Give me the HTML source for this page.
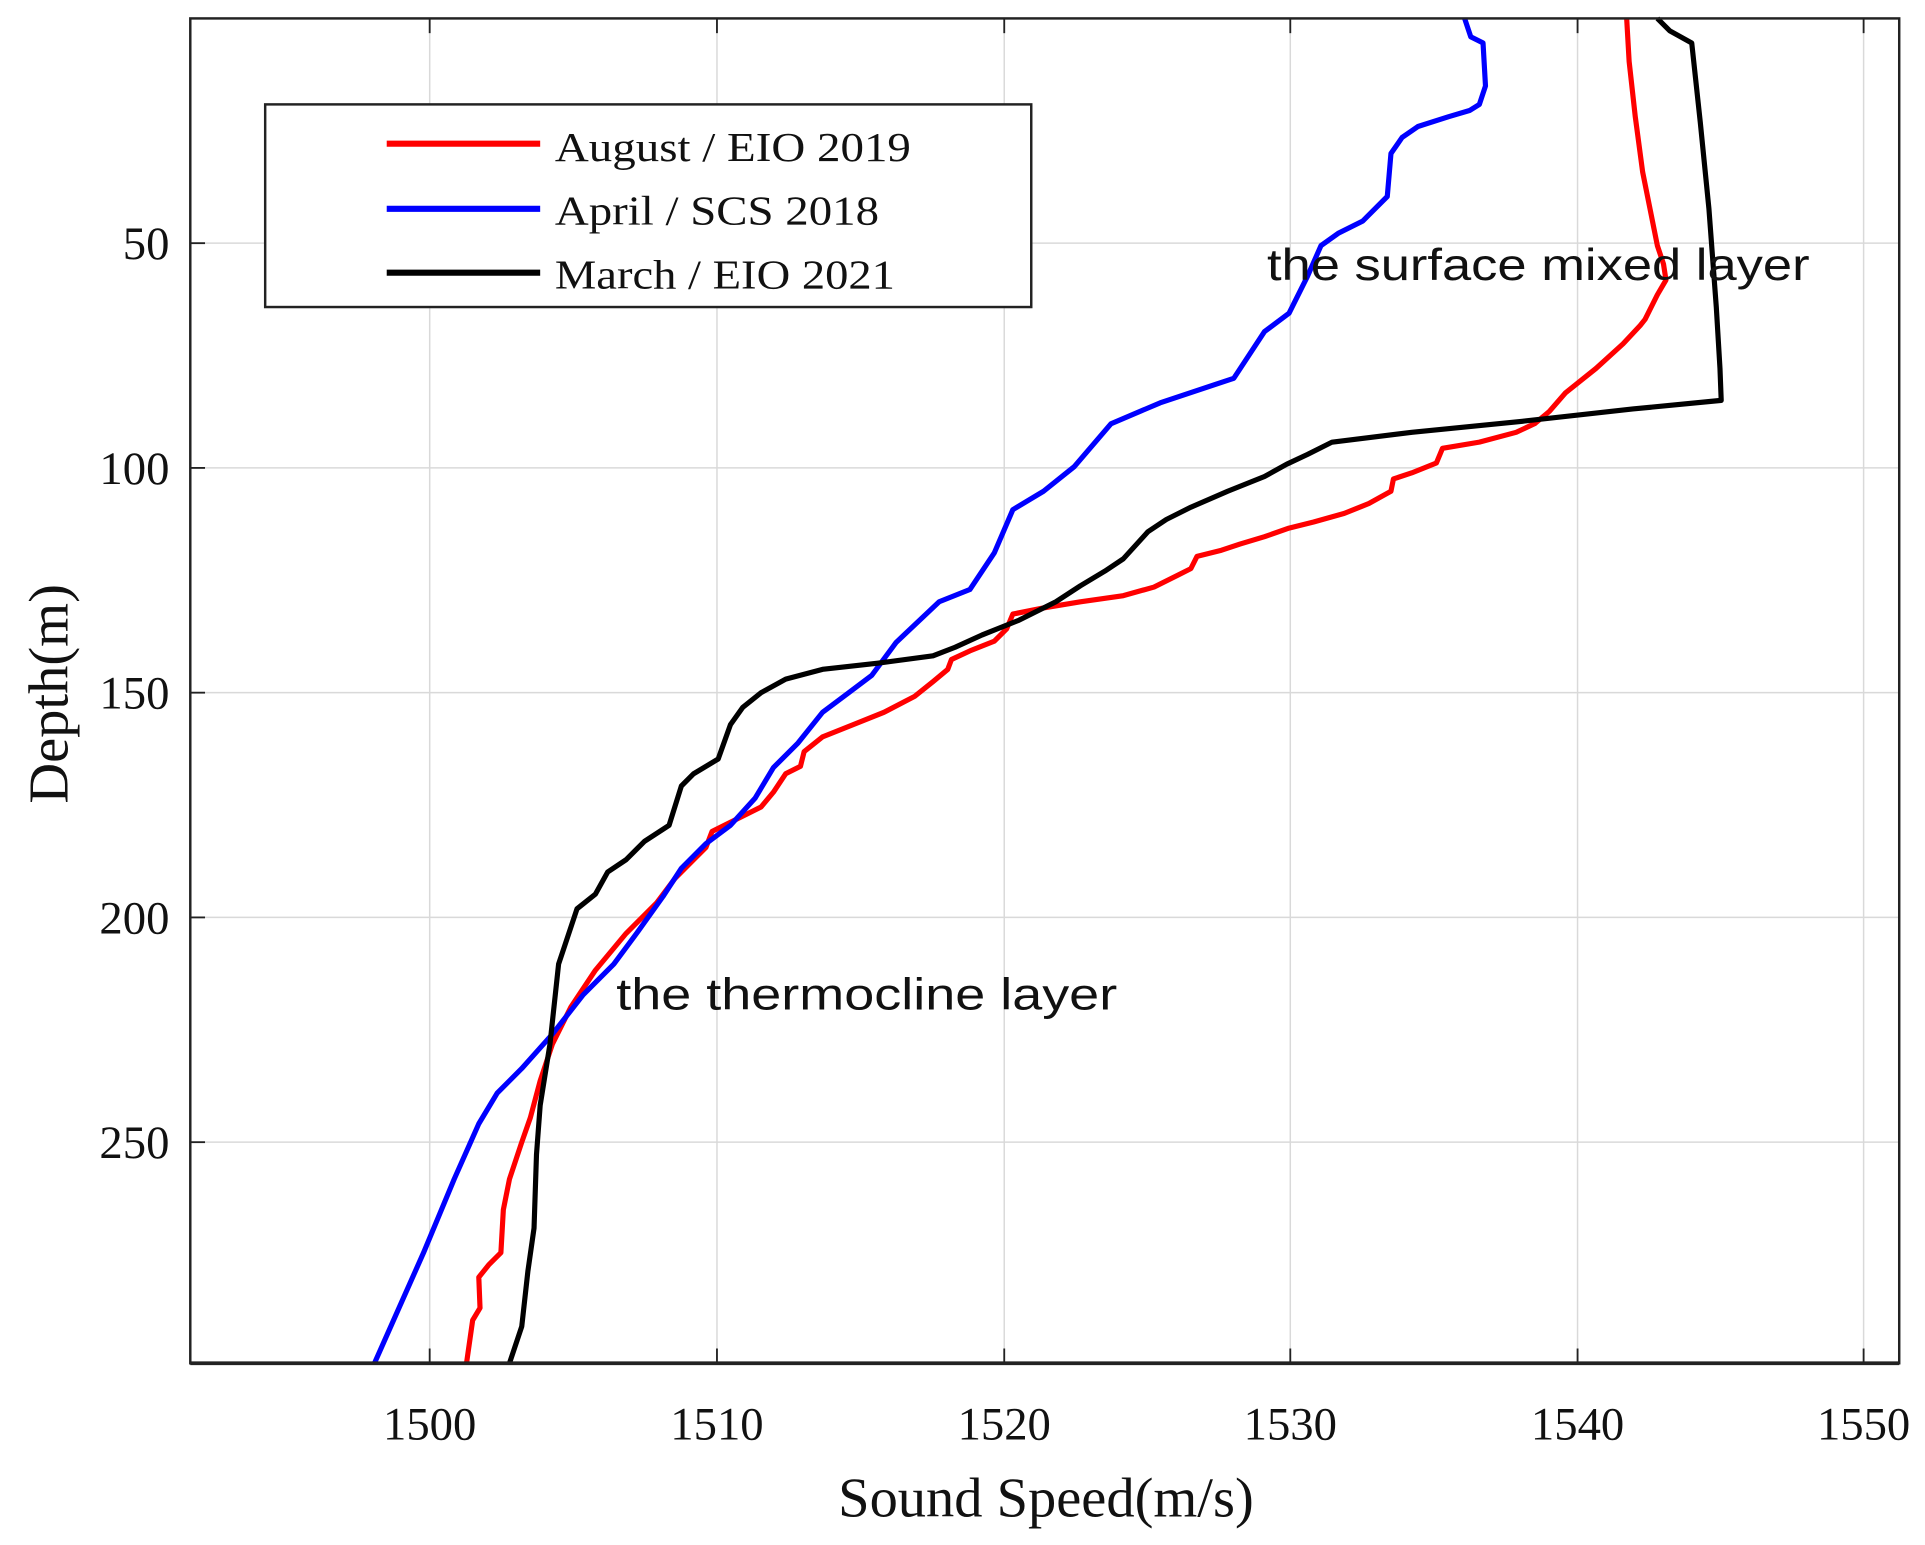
<!DOCTYPE html>
<html><head><meta charset="utf-8"><style>html,body{margin:0;padding:0;background:#fff;overflow:hidden}svg{display:block}</style></head><body>
<svg width="1925" height="1545" viewBox="0 0 1568 1258" preserveAspectRatio="none" xmlns="http://www.w3.org/2000/svg">
<g stroke="#d9d9d9" stroke-width="1.2">
<line x1="350" y1="15" x2="350" y2="1110"/><line x1="584" y1="15" x2="584" y2="1110"/><line x1="818" y1="15" x2="818" y2="1110"/><line x1="1051" y1="15" x2="1051" y2="1110"/><line x1="1285" y1="15" x2="1285" y2="1110"/><line x1="1518" y1="15" x2="1518" y2="1110"/>
<line x1="155" y1="198" x2="1547" y2="198"/><line x1="155" y1="381" x2="1547" y2="381"/><line x1="155" y1="564" x2="1547" y2="564"/><line x1="155" y1="747" x2="1547" y2="747"/><line x1="155" y1="930" x2="1547" y2="930"/>
</g>
<g stroke="#222" stroke-width="1.5">
<line x1="350" y1="1110" x2="350" y2="1098"/><line x1="584" y1="1110" x2="584" y2="1098"/><line x1="818" y1="1110" x2="818" y2="1098"/><line x1="1051" y1="1110" x2="1051" y2="1098"/><line x1="1285" y1="1110" x2="1285" y2="1098"/><line x1="1518" y1="1110" x2="1518" y2="1098"/>
<line x1="350" y1="15" x2="350" y2="27"/><line x1="584" y1="15" x2="584" y2="27"/><line x1="818" y1="15" x2="818" y2="27"/><line x1="1051" y1="15" x2="1051" y2="27"/><line x1="1285" y1="15" x2="1285" y2="27"/><line x1="1518" y1="15" x2="1518" y2="27"/>
<line x1="155" y1="198" x2="167" y2="198"/><line x1="155" y1="381" x2="167" y2="381"/><line x1="155" y1="564" x2="167" y2="564"/><line x1="155" y1="747" x2="167" y2="747"/><line x1="155" y1="930" x2="167" y2="930"/>
</g>
<g fill="none" stroke-width="4.2" stroke-linejoin="round">
<polyline stroke="#ff0000" points="1325,15 1327,50 1332,95 1338,140 1345,175 1350,200 1355,215 1357,228 1350,240 1340,260 1336,265 1322,280 1300,300 1275,320 1262,335 1250,345 1235,352 1205,360 1175,365 1170,377 1150,385 1135,390 1133,400 1115,410 1095,418 1070,425 1050,430 1030,437 1010,443 995,448 975,453 970,463 960,468 940,478 915,485 880,490 850,495 825,500 820,512 810,522 790,530 775,537 772,545 760,555 745,567 720,580 695,590 670,600 655,612 652,624 640,630 630,645 620,657 600,667 580,677 575,690 565,700 550,715 535,735 510,760 485,790 465,820 450,850 440,880 432,910 425,930 415,960 410,985 408,1020 398,1030 390,1040 391,1065 385,1075 380,1110"/>
<polyline stroke="#0000ff" points="1193,15 1198,30 1208,35 1210,70 1205,85 1197,90 1180,95 1155,103 1142,112 1133,125 1130,160 1110,180 1090,190 1076,200 1065,225 1050,255 1030,270 1005,308 945,328 905,345 875,380 850,400 825,415 810,450 790,480 765,490 730,523 710,550 690,565 670,580 650,605 630,625 615,650 595,672 575,687 555,707 540,730 520,758 500,785 475,810 450,842 425,870 405,890 390,915 370,960 345,1020 325,1065 305,1110"/>
<polyline stroke="#000" points="1350,15 1360,25 1378,35 1385,100 1392,170 1398,250 1401,300 1402,326 1330,333 1240,343 1150,352 1085,360 1065,370 1048,378 1030,388 1000,400 970,413 950,423 935,433 915,455 900,465 880,477 860,490 830,505 800,517 778,527 760,534 715,540 670,545 640,553 620,564 605,576 595,590 585,618 565,630 555,640 545,672 525,685 510,700 495,710 485,728 470,740 460,770 455,785 448,850 440,900 437,940 435,1000 430,1035 425,1080 415,1110"/>
</g>
<rect x="155" y="15" width="1392" height="1095" fill="none" stroke="#222" stroke-width="2"/>
<line x1="155" y1="1110" x2="1547" y2="1110" stroke="#222" stroke-width="3"/>
<rect x="216" y="85" width="624" height="165" fill="#fff" stroke="#222" stroke-width="2"/>
<line x1="315" y1="117" x2="440" y2="117" stroke="#ff0000" stroke-width="5"/>
<line x1="315" y1="170" x2="440" y2="170" stroke="#0000ff" stroke-width="5"/>
<line x1="315" y1="222" x2="440" y2="222" stroke="#000" stroke-width="5"/>
<g font-family="Liberation Serif, serif" font-size="34" fill="#111">
<text x="452" y="131" textLength="290" lengthAdjust="spacingAndGlyphs">August / EIO 2019</text>
<text x="452" y="183" textLength="264" lengthAdjust="spacingAndGlyphs">April / SCS 2018</text>
<text x="452" y="235" textLength="277" lengthAdjust="spacingAndGlyphs">March / EIO 2021</text>
</g>
<g font-family="Liberation Serif, serif" font-size="38" fill="#111" text-anchor="end">
<text x="138" y="211">50</text><text x="138" y="394">100</text><text x="138" y="577">150</text><text x="138" y="760">200</text><text x="138" y="943">250</text>
</g>
<g font-family="Liberation Serif, serif" font-size="38" fill="#111" text-anchor="middle">
<text x="350" y="1172">1500</text><text x="584" y="1172">1510</text><text x="818" y="1172">1520</text><text x="1051" y="1172">1530</text><text x="1285" y="1172">1540</text><text x="1518" y="1172">1550</text>
<text x="852" y="1235" font-size="46">Sound Speed(m/s)</text>
<text transform="translate(55,565) rotate(-90)" font-size="46">Depth(m)</text>
</g>
<g font-family="Liberation Sans, sans-serif" font-size="36" fill="#111">
<text x="1032" y="228" textLength="442" lengthAdjust="spacingAndGlyphs">the surface mixed layer</text>
<text x="502" y="822" textLength="408" lengthAdjust="spacingAndGlyphs">the thermocline  layer</text>
</g>
</svg>
</body></html>
